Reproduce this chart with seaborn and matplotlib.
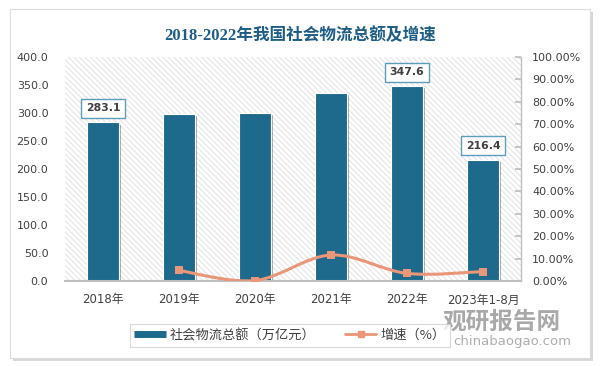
import numpy as np
import pandas as pd
import matplotlib
matplotlib.use("Agg")
import matplotlib.pyplot as plt
import seaborn as sns
from matplotlib.path import Path
from matplotlib.patches import PathPatch, Rectangle
from matplotlib.lines import Line2D
import matplotlib.patheffects as pe
from matplotlib.ticker import FuncFormatter

# ---------------- data ----------------
years = ["2018年", "2019年", "2020年", "2021年", "2022年", "2023年1-8月"]
totals = [283.1, 298.0, 300.1, 335.2, 347.6, 216.4]          # 万亿元
growth = [np.nan, 4.7, 0.2, 11.6, 3.4, 4.2]                   # %
labelled_years = ["2018年", "2022年", "2023年1-8月"]
left_ticks = [0, 50, 100, 150, 200, 250, 300, 350, 400]
right_ticks = [0, 10, 20, 30, 40, 50, 60, 70, 80, 90, 100]
title = "2018-2022年我国社会物流总额及增速"
legend_labels = ["社会物流总额（万亿元）", "增速（%）"]

BAR = "#1e6a8d"
LINE = "#ea9678"
TXT = "#404040"
GRID = "#bfbfbf"

sns.set_theme(style="white")
plt.rcParams["font.family"] = ["DejaVu Sans", "Noto Sans CJK SC"]
plt.rcParams["hatch.linewidth"] = 0.6

fig = plt.figure(figsize=(6, 3.66), dpi=100, facecolor="white")

# card with shadow
card = Rectangle((10 / 600, 1 - 358 / 366), 580 / 600, 349 / 366,
                 transform=fig.transFigure, facecolor="white",
                 edgecolor="#dcdcdc", lw=0.8, zorder=-10,
                 path_effects=[pe.SimplePatchShadow(offset=(2, -2), shadow_rgbFace="#b0b0b0", alpha=0.5),
                               pe.Normal()])
fig.add_artist(card)

ax = fig.add_axes([65 / 600, 1 - 281 / 366, 456 / 600, 224 / 366])
ax.patch.set_alpha(0)

df = pd.DataFrame({"year": years, "total": totals})
sns.barplot(data=df, x="year", y="total", color=BAR, saturation=1, width=0.42,
            edgecolor="white", linewidth=0.8, ax=ax, zorder=2)
for p in ax.patches:
    p.set_path_effects([pe.SimplePatchShadow(offset=(1.5, -1.5), alpha=0.35), pe.Normal()])

# hatched plot background
bg = Rectangle((0, 0), 1, 1, transform=ax.transAxes, facecolor="white",
               edgecolor="#dedede", hatch="\\\\\\\\\\\\", lw=0, zorder=0)
ax.add_patch(bg)

ax.set_ylim(0, 400)
ax.set_xlim(-0.5, len(years) - 0.5)
ax.set_yticks(left_ticks)
ax.yaxis.set_major_formatter(FuncFormatter(lambda v, _: f"{v:.1f}"))
ax.set_xlabel("")
ax.set_ylabel("")
for s in ["left", "top", "right"]:
    ax.spines[s].set_visible(False)
ax.spines["bottom"].set_color(GRID)
ax.spines["bottom"].set_linewidth(1.5)
ax.spines["bottom"].set_zorder(3)
ax.tick_params(axis="y", length=0, pad=12, labelsize=8, labelcolor=TXT)
ax.tick_params(axis="x", length=0, pad=9, labelsize=8.5, labelcolor=TXT)

# value labels
for i, y in enumerate(years):
    if y in labelled_years:
        ax.annotate(f"{totals[i]:.1f}", xy=(i, totals[i]), xytext=(0, 14),
                    textcoords="offset pixels", ha="center", va="center",
                    fontsize=7.8, fontweight="bold", color=TXT, zorder=6,
                    bbox=dict(boxstyle="square,pad=0.42", fc="white", ec="#5b9dbb", lw=1))

# secondary axis
ax2 = ax.twinx()
ax2.set_ylim(0, 100)
ax2.set_yticks(right_ticks)
ax2.yaxis.set_major_formatter(FuncFormatter(lambda v, _: f"{v:.2f}%"))
for s in ["left", "top", "bottom"]:
    ax2.spines[s].set_visible(False)
ax2.spines["right"].set_color(GRID)
ax2.spines["right"].set_linewidth(1)
ax2.tick_params(axis="y", direction="in", length=4, color=GRID, pad=8,
                labelsize=8, labelcolor=TXT)
ax2.grid(False)
ax.grid(False)

# smoothed growth line (Bezier through the data points, display space)
gdf = pd.DataFrame({"x": np.arange(len(years)), "g": growth}).dropna()
pts = ax2.transData.transform(gdf[["x", "g"]].to_numpy())
n = len(pts)
verts = [pts[0]]
codes = [Path.MOVETO]
for k in range(n - 1):
    p0 = pts[k - 1] if k > 0 else pts[k]
    p1 = pts[k]
    p2 = pts[k + 1]
    p3 = pts[k + 2] if k + 2 < n else pts[k + 1]
    c1 = p1 + (p2 - p0) / 6.0
    c2 = p2 - (p3 - p1) / 6.0
    verts += [c1, c2, p2]
    codes += [Path.CURVE4] * 3
verts = ax2.transData.inverted().transform(np.array(verts))
ax2.add_patch(PathPatch(Path(verts, codes), fill=False, edgecolor=LINE, lw=2.2, zorder=4))
sns.scatterplot(data=gdf, x="x", y="g", marker="s", color=LINE, s=30,
                edgecolor=LINE, linewidth=0, ax=ax2, zorder=5, legend=False)
ax2.set_xlabel("")
ax2.set_ylabel("")
ax2.set_xlim(-0.5, len(years) - 0.5)

# title
fig.text(300 / 600, 1 - 36 / 366, title, ha="center", va="center",
         fontsize=12, fontweight="bold", color="#1e5d86",
         family=["Liberation Serif", "Noto Sans CJK SC"])

# legend
handles = [Line2D([], [], color=BAR, lw=5, solid_capstyle="butt"),
           Line2D([], [], color=LINE, lw=2, marker="s", markersize=5)]
leg = fig.legend(handles, legend_labels, loc="center",
                 bbox_to_anchor=(290 / 600, 1 - 335.5 / 366), ncol=2,
                 frameon=True, fancybox=False, edgecolor="#d0d0d0",
                 handlelength=2.4, handletextpad=0.3, columnspacing=2.2,
                 borderpad=0.35, prop={"family": ["Noto Sans CJK SC", "DejaVu Sans"], "size": 9.5})
leg.get_frame().set_linewidth(0.8)
for t in leg.get_texts():
    t.set_color(TXT)

# watermark
fig.text(502 / 600, 1 - 322 / 366, "观研报告网", ha="center", va="center",
         fontsize=17, fontweight="bold", color="#8c8c8c", alpha=0.75,
         family=["Noto Sans CJK SC"])
fig.text(512 / 600, 1 - 342 / 366, "chinabaogao.com", ha="center", va="center",
         fontsize=9.5, color="#9a9a9a", alpha=0.8)

fig.savefig("out.png", dpi=100, facecolor="white")
